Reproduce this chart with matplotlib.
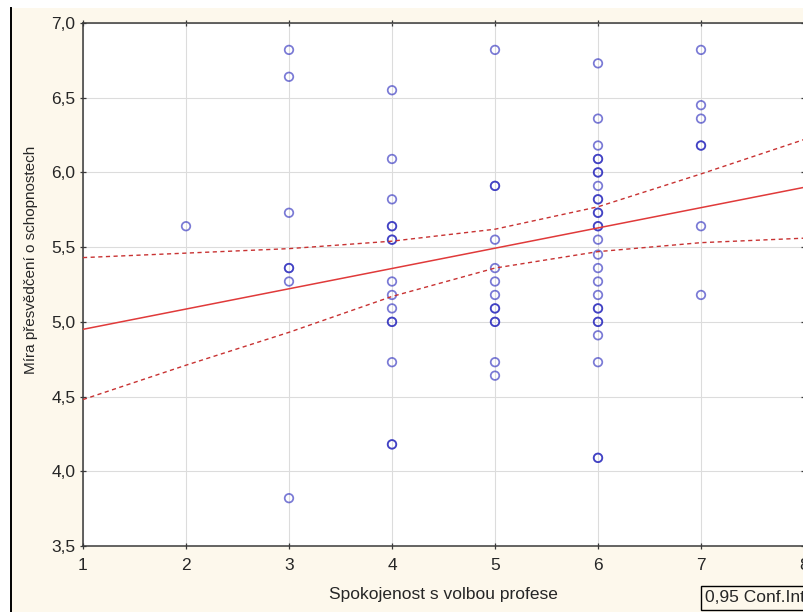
import matplotlib

matplotlib.use("Agg")

import matplotlib.pyplot as plt
from matplotlib.patches import Rectangle
from matplotlib.lines import Line2D
from matplotlib.ticker import FuncFormatter, MultipleLocator

# Spokojenost s volbou profese (x) vs. Míra přesvědčení o schopnostech (y)
# repeated values are overlapping points (drawn darker in the original)
satisfaction = (
    [2]
    + [3] * 7
    + [4] * 15
    + [5] * 13
    + [6] * 27
    + [7] * 7
)
confidence = (
    [5.64]
    + [6.82, 6.64, 5.73, 5.36, 5.36, 5.27, 3.82]
    + [6.55, 6.09, 5.82, 5.64, 5.64, 5.55, 5.55, 5.27, 5.18, 5.09,
       5.00, 5.00, 4.73, 4.18, 4.18]
    + [6.82, 5.91, 5.91, 5.55, 5.36, 5.27, 5.18, 5.09, 5.09, 5.00,
       5.00, 4.73, 4.64]
    + [6.73, 6.36, 6.18, 6.09, 6.09, 6.00, 6.00, 5.91, 5.82, 5.82,
       5.73, 5.73, 5.64, 5.64, 5.55, 5.45, 5.36, 5.27, 5.18, 5.09,
       5.09, 5.00, 5.00, 4.91, 4.73, 4.09, 4.09]
    + [6.82, 6.45, 6.36, 6.18, 6.18, 5.64, 5.18]
)

# regression line and 0,95 confidence band
fit_x = [1, 8]
fit_y = [4.95, 5.90]
band_x = [1, 2, 3, 4, 5, 6, 7, 8]
band_upper = [5.43, 5.46, 5.49, 5.54, 5.62, 5.77, 5.99, 6.22]
band_lower = [4.48, 4.71, 4.93, 5.17, 5.36, 5.47, 5.53, 5.56]

X_LABEL = "Spokojenost s volbou profese"
Y_LABEL = "Míra přesvědčení o schopnostech"
LEGEND_TEXT = "0,95 Conf.Int."

CREAM = "#fdf8ec"
TEXT_COLOR = "#262626"
POINT_COLOR = "#1a1ab8"
LINE_RED = "#e03a3a"
DASH_RED = "#c83232"

plt.rcParams["font.family"] = ["Liberation Sans", "DejaVu Sans"]

W, H = 804, 612
fig = plt.figure(figsize=(W / 100, H / 100), dpi=100, facecolor="white")

# graph window background with its left border
fig.patches.append(
    Rectangle((11 / W, 0), 1, (H - 8) / H, transform=fig.transFigure,
              facecolor=CREAM, edgecolor="none", zorder=-10)
)
fig.lines.append(
    Line2D([11 / W, 11 / W], [0, (H - 8) / H], transform=fig.transFigure,
           color="black", linewidth=1.4)
)

ax = fig.add_axes([83 / W, (H - 546) / H, 721 / W, 523 / H])
ax.set_facecolor("white")

ax.scatter(satisfaction, confidence, s=38, facecolors="none",
           edgecolors=POINT_COLOR, linewidths=1.25, alpha=0.58, zorder=3)

ax.plot(fit_x, fit_y, color=LINE_RED, linewidth=1.1, zorder=4)
ax.plot(band_x, band_upper, color=DASH_RED, linewidth=1.0,
        dashes=(3, 2.5), zorder=4)
ax.plot(band_x, band_lower, color=DASH_RED, linewidth=1.0,
        dashes=(3, 2.5), zorder=4)

ax.set_xlim(1, 8)
ax.set_ylim(3.5, 7.0)
ax.xaxis.set_major_locator(MultipleLocator(1))
ax.yaxis.set_major_locator(MultipleLocator(0.5))
ax.xaxis.set_major_formatter(FuncFormatter(lambda v, p: f"{v:.0f}"))
ax.yaxis.set_major_formatter(FuncFormatter(lambda v, p: f"{v:.1f}".replace(".", ",")))

ax.grid(True, color="#dcdcdc", linewidth=0.8, zorder=0)
ax.set_axisbelow(True)

for side in ["left", "bottom", "top", "right"]:
    ax.spines[side].set_color("#3a3a3a")
    ax.spines[side].set_linewidth(1.1)

ax.tick_params(axis="both", which="major", direction="inout", length=5,
               width=0.9, color="#3a3a3a", top=True, right=True,
               labelsize=12.5, labelcolor=TEXT_COLOR)
ax.tick_params(axis="x", pad=6)
ax.tick_params(axis="y", pad=3)

ax.set_xlabel(X_LABEL, fontsize=12.5, color=TEXT_COLOR, va="center")
ax.xaxis.set_label_coords(0.5, (546 - 595) / 523)
ax.set_ylabel(Y_LABEL, fontsize=11, color=TEXT_COLOR, va="center")
ax.yaxis.set_label_coords((31 - 83) / 721, (546 - 260) / 523)

fig.text(705 / W, 1 - 598 / H, LEGEND_TEXT, fontsize=12.5, color=TEXT_COLOR,
         ha="left", va="center",
         bbox=dict(boxstyle="square,pad=0.25", facecolor=CREAM,
                   edgecolor="black", linewidth=1.0))

fig.savefig("out.png", dpi=100, facecolor=fig.get_facecolor())
